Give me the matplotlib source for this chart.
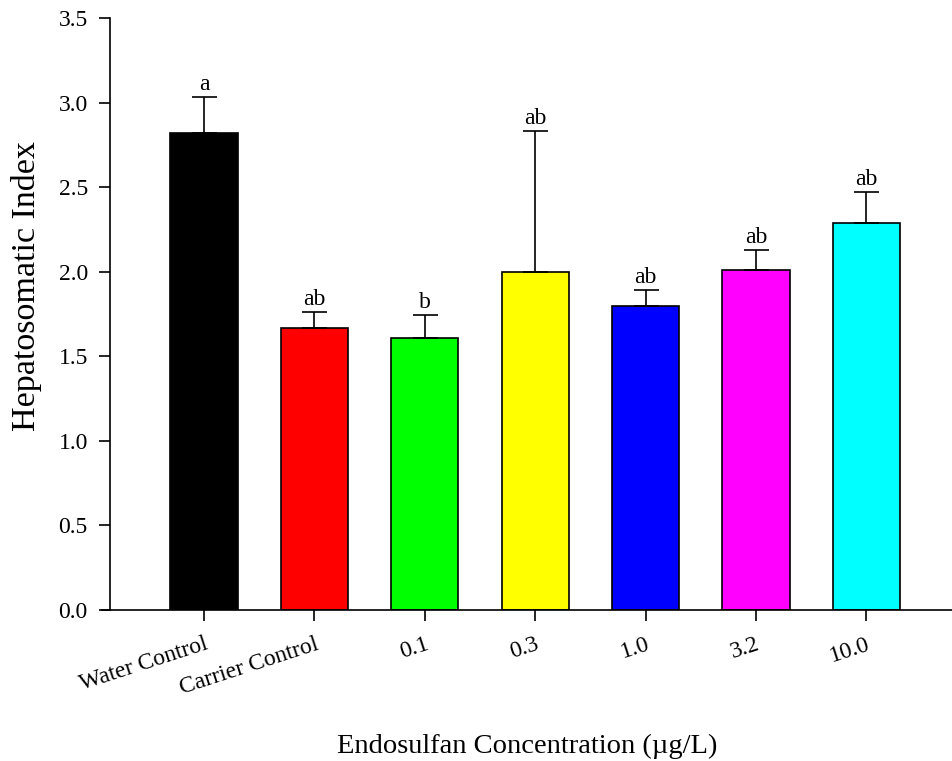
import numpy as np
import matplotlib.pyplot as plt

plt.rcParams['font.family'] = ['Liberation Serif', 'DejaVu Serif']

# data
groups = ['Water Control', 'Carrier Control', '0.1', '0.3', '1.0', '3.2', '10.0']
means = [2.82, 1.67, 1.61, 2.00, 1.80, 2.01, 2.29]
errors = [0.21, 0.09, 0.135, 0.83, 0.09, 0.12, 0.18]
letters = ['a', 'ab', 'b', 'ab', 'ab', 'ab', 'ab']
colors = ['#000000', '#ff0000', '#00ff00', '#ffff00', '#0000ff', '#ff00ff', '#00ffff']

fig = plt.figure(figsize=(9.53, 7.61), dpi=100)
ax = fig.add_axes([102 / 953, 151 / 761, 851 / 953, 592 / 761])

x = np.arange(len(groups))
ax.bar(x, means, width=0.61, color=colors, edgecolor='black', linewidth=1.2,
       yerr=[np.zeros(len(errors)), errors], capsize=9,
       error_kw=dict(elinewidth=1.2, capthick=1.2, ecolor='black'), zorder=2)

for xi, m, e, lab in zip(x, means, errors, letters):
    ax.text(xi, m + e + 0.012, lab, ha='center', va='bottom', fontsize=17)

ax.set_xlim(-0.924, 6.784)
ax.set_ylim(0, 3.5)
ax.set_yticks(np.arange(0, 3.51, 0.5))
ax.set_yticklabels([f'{v:.1f}' for v in np.arange(0, 3.51, 0.5)])
ax.set_xticks(x)
ax.set_xticklabels(groups, rotation=18, ha='right', rotation_mode='anchor')

for s in ['top', 'right']:
    ax.spines[s].set_visible(False)
ax.spines['left'].set_position(('data', -0.851))
ax.spines['left'].set_linewidth(1.2)
ax.spines['bottom'].set_linewidth(1.2)
ax.tick_params(direction='out', length=8, width=1.2, labelsize=17, pad=8)
ax.tick_params(axis='x', pad=9)

ax.set_ylabel('Hepatosomatic Index', fontsize=24.5)
ax.yaxis.set_label_coords(-0.071, 0.547)
ax.set_xlabel('Endosulfan Concentration (µg/L)', fontsize=20.5)
ax.xaxis.set_label_coords(0.5, -0.21)

fig.savefig('out.png', dpi=100)
